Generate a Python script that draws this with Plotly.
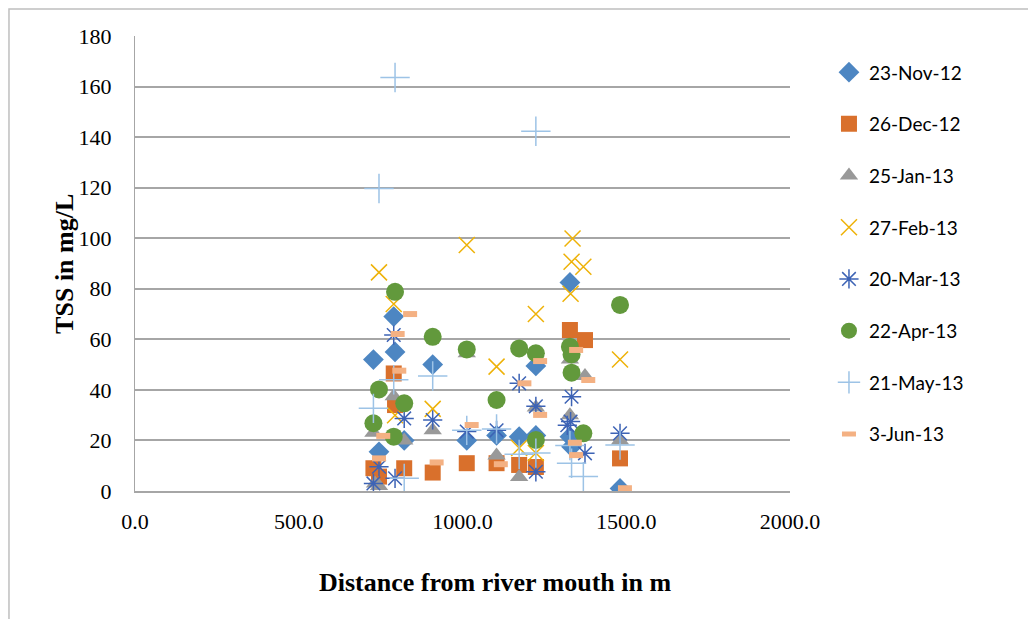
import plotly.graph_objects as go

# ---- data (distance in m, TSS in mg/L) ----
nov_x = [728, 745, 790, 794, 822, 909, 1013, 1104, 1173, 1224, 1224, 1328, 1328, 1333, 1481]
nov_y = [52, 15.5, 69, 55, 20, 50, 20, 22, 21.5, 49.5, 22, 82.5, 21.5, 17.5, 1]

dec_x = [728, 745, 790, 794, 822, 909, 1013, 1104, 1173, 1224, 1328, 1374, 1481]
dec_y = [9, 5.7, 46.5, 34, 9, 7.3, 11, 11, 10.3, 9.5, 63.7, 59.7, 12.9]

jan_x = [728, 733, 745, 790, 822, 909, 1013, 1104, 1173, 1224, 1328, 1328, 1374, 1481]
jan_y = [23, 3, 2, 37.5, 20, 24, 54.5, 14, 5.5, 33, 52, 30, 45.5, 20]

feb_x = [745, 790, 794, 909, 1013, 1104, 1173, 1224, 1224, 1336, 1333, 1369, 1330, 1481]
feb_y = [86.5, 74, 30, 32.5, 97.3, 49.2, 17, 70, 15, 99.9, 90.7, 88.7, 78, 52]

mar_x = [728, 745, 790, 794, 822, 909, 1013, 1104, 1173, 1224, 1224, 1333, 1320, 1330, 1374, 1481]
mar_y = [3, 9.6, 61.7, 5, 28.7, 28.1, 23.5, 24, 42.6, 33.5, 7.6, 37.3, 26, 27.5, 14.9, 22.8]

apr_x = [728, 745, 790, 794, 822, 909, 1013, 1104, 1173, 1224, 1224, 1328, 1333, 1333, 1369, 1481]
apr_y = [26.8, 40.2, 21.5, 78.8, 34.7, 61, 56, 36, 56.4, 54.5, 20.2, 57.1, 54, 46.8, 22.8, 73.6]

may_x = [745, 794, 790, 728, 909, 822, 1013, 1104, 1173, 1224, 1224, 1328, 1333, 1369, 1481]
may_y = [119.7, 163.6, 44, 32.7, 45.5, 5, 24, 24.5, 14.5, 142.3, 15, 18, 11, 5.7, 18.2]

jun_x = [840, 802, 807, 758, 745, 921, 1028, 1117, 1189, 1237, 1237, 1347, 1384, 1343, 1347, 1496]
jun_y = [70, 62.1, 47.6, 21.8, 12.9, 11.3, 26.1, 10.6, 42.6, 51.4, 30.1, 55.8, 43.9, 19.1, 14.2, 1.1]

series_names = ["23-Nov-12", "26-Dec-12", "25-Jan-13", "27-Feb-13",
                "20-Mar-13", "22-Apr-13", "21-May-13", "3-Jun-13"]

x_ticks = [0, 500, 1000, 1500, 2000]
x_tick_labels = ["0.0", "500.0", "1000.0", "1500.0", "2000.0"]
y_ticks = [0, 20, 40, 60, 80, 100, 120, 140, 160, 180]

data = [
    (nov_x, nov_y, dict(symbol="diamond", size=16, color="#4D86C2")),
    (dec_x, dec_y, dict(symbol="square", size=16, color="#D9702C")),
    (jan_x, jan_y, dict(symbol="triangle-up", size=16, color="#999999")),
    (feb_x, feb_y, dict(symbol="x-thin-open", size=16, color="#EEB208",
                        line=dict(color="#EEB208", width=1.5))),
    (mar_x, mar_y, dict(symbol="asterisk-open", size=16, color="#3D63B5",
                        line=dict(color="#3D63B5", width=1.5))),
    (apr_x, apr_y, dict(symbol="circle", size=18, color="#62993C")),
    (may_x, may_y, dict(symbol="cross-thin-open", size=21, color="#9DC3E6",
                        line=dict(color="#9DC3E6", width=1.5))),
    (jun_x, jun_y, dict(symbol="line-ew-open", size=10, color="#F4B183",
                        line=dict(color="#F4B183", width=6))),
]

fig = go.Figure()
for (xs, ys, mk), name in zip(data, series_names):
    fig.add_trace(go.Scatter(x=xs, y=ys, mode="markers", name=name,
                             marker=mk, legendgroup=name))

fig.update_layout(
    width=1036, height=619,
    margin=dict(l=127, r=254, t=28, b=136),
    plot_bgcolor="white", paper_bgcolor="white",
    showlegend=True,
    legend=dict(x=1.0595, xanchor="left", y=0.962, yanchor="top",
                font=dict(family="Lato, Carlito, sans-serif", size=19, color="black"),
                tracegroupgap=24, itemwidth=30, bgcolor="rgba(0,0,0,0)",
                traceorder="grouped"),
    font=dict(family="Liberation Serif, Times New Roman, serif", color="black"),
)
fig.update_xaxes(range=[0, 2000], tickvals=x_ticks, ticktext=x_tick_labels,
                 showgrid=False, zeroline=False, showline=True,
                 linecolor="#A6A6A6", linewidth=1.5,
                 tickfont=dict(size=22, family="Liberation Serif"), ticks="",
                 ticklabelstandoff=10)
fig.update_yaxes(range=[0, 180], tickvals=y_ticks, showgrid=True,
                 gridcolor="#A6A6A6", gridwidth=1.5, zeroline=False,
                 showline=True, linecolor="#A6A6A6", linewidth=1,
                 tickfont=dict(size=22, family="Liberation Serif"), ticks="",
                 ticklabelstandoff=18)

fig.add_annotation(text="<b>TSS in mg/L</b>", xref="paper", yref="paper",
                   x=-0.133, y=0.5, textangle=-90, showarrow=False,
                   font=dict(size=26, family="Liberation Serif"))
fig.add_annotation(text="<b>Distance from river mouth in m</b>", xref="paper",
                   yref="paper", x=0.55, y=-0.237, showarrow=False,
                   font=dict(size=26, family="Liberation Serif"))
fig.add_shape(type="rect", xref="paper", yref="paper",
              x0=-0.1924, x1=1.5, y0=-0.5, y1=1.0593,
              line=dict(color="#BFBFBF", width=1.5), fillcolor="rgba(0,0,0,0)",
              layer="below")

fig.write_html("out.html")
